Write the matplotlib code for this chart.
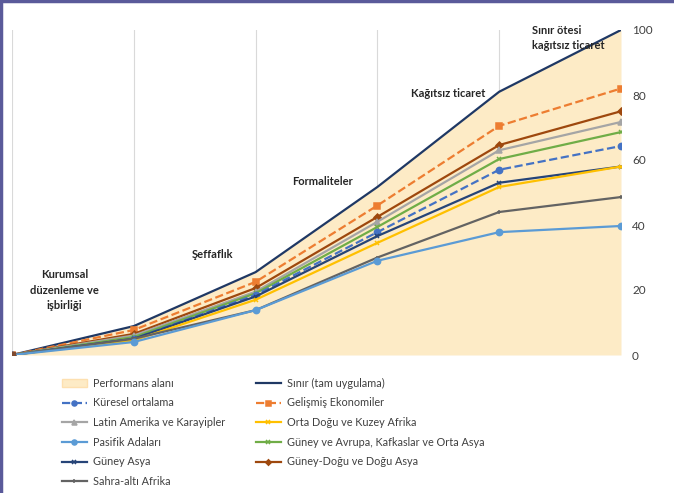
import matplotlib
matplotlib.use('Agg')
import matplotlib.pyplot as plt
from matplotlib.lines import Line2D
from matplotlib.patches import Patch

plt.rcParams['font.family'] = ['Lato', 'DejaVu Sans']

# stages (0..5) and values
stages = [0, 1, 2, 3, 4, 5]
sinir = [0, 8.9, 25.5, 51.7, 81, 100]
gelismis = [0, 7.7, 22.5, 46, 70.5, 82]
gd_asya = [0, 6.5, 20.6, 42.5, 64.6, 75]
latin = [0, 6, 19.5, 41, 63, 71.7]
g_avrupa = [0, 5.5, 19, 39.4, 60.3, 68.6]
kuresel = [0, 5, 18.5, 37.8, 57, 64.3]
g_asya = [0, 5, 18, 36.6, 53, 58]
orta_dogu = [0, 4.5, 17, 34.5, 51.7, 58]
sahra = [0, 5, 13.8, 30, 44, 48.6]
pasifik = [0, 4, 13.8, 29, 37.8, 39.7]

stage_labels = ['Kurumsal\ndüzenleme ve\nişbirliği', 'Şeffaflık', 'Formaliteler',
                'Kağıtsız ticaret', 'Sınır ötesi\nkağıtsız ticaret']

fig = plt.figure(figsize=(6.74, 4.93), dpi=100)
ax = fig.add_axes([12/674, 1-355/493, (621-12)/674, (355-30)/493])

ax.fill_between(stages, sinir, 0, color='#fdebc6', lw=0, zorder=1)
for s in stages:
    ax.axvline(s, color='#d9d9d9', lw=0.8, zorder=0.5)

series = [
    (sinir, '#1f3864', '-', None, 'Sınır (tam uygulama)'),
    (gelismis, '#ed7d31', '--', 's', 'Gelişmiş Ekonomiler'),
    (gd_asya, '#9e480e', '-', 'D', 'Güney-Doğu ve Doğu Asya'),
    (latin, '#a5a5a5', '-', '^', 'Latin Amerika ve Karayipler'),
    (g_avrupa, '#70ad47', '-', 'x', 'Güney ve Avrupa, Kafkaslar ve Orta Asya'),
    (kuresel, '#4472c4', '--', 'o', 'Küresel ortalama'),
    (g_asya, '#264478', '-', 'x', 'Güney Asya'),
    (orta_dogu, '#ffc000', '-', 'x', 'Orta Doğu ve Kuzey Afrika'),
    (sahra, '#636363', '-', '+', 'Sahra-altı Afrika'),
    (pasifik, '#5b9bd5', '-', 'o', 'Pasifik Adaları'),
]
handles = {}
for vals, col, ls, mk, lab in series:
    ms = 3.5 if mk in ('D', 'x', '+') else 4.5
    h, = ax.plot(stages, vals, color=col, ls=ls, lw=1.6, marker=mk, ms=ms,
                 mew=1.1, zorder=3, label=lab)
    handles[lab] = h
# the brown start point visible at origin
ax.plot([0], [0], marker='s', color='#7f4a2e', ms=4, zorder=4)

ax.set_xlim(0, 5)
ax.set_ylim(0, 100)
for sp in ax.spines.values():
    sp.set_visible(False)
ax.set_xticks([])
ax.yaxis.tick_right()
ax.set_yticks([0, 20, 40, 60, 80, 100])
ax.tick_params(axis='y', length=0, pad=8, labelsize=8.5, labelcolor='#404040')

label_pos = [(0.43, 20, 'center'), (1.65, 31, 'center'), (2.55, 53.5, 'center'),
             (3.58, 80.5, 'center'), (4.27, 97.5, 'left')]
for (x, y, ha), t in zip(label_pos, stage_labels):
    ax.text(x, y, t, ha=ha, va='center', fontsize=8, fontweight='bold',
            color='#262626', linespacing=1.5)

perf = Patch(facecolor='#fdebc6', edgecolor='#fde0b0', label='Performans alanı')
order = [perf, handles['Küresel ortalama'], handles['Latin Amerika ve Karayipler'],
         handles['Pasifik Adaları'], handles['Güney Asya'], handles['Sahra-altı Afrika'],
         handles['Sınır (tam uygulama)'], handles['Gelişmiş Ekonomiler'],
         handles['Orta Doğu ve Kuzey Afrika'],
         handles['Güney ve Avrupa, Kafkaslar ve Orta Asya'],
         handles['Güney-Doğu ve Doğu Asya']]
leg = fig.legend(handles=order, labels=[h.get_label() for h in order], ncol=2,
                 loc='upper left', bbox_to_anchor=(52/674, 1-368/493), frameon=False,
                 fontsize=7.8, handlelength=2.3, handletextpad=0.6,
                 columnspacing=2.8, labelspacing=0.8, markerscale=0.8)
for t in leg.get_texts():
    t.set_color('#404040')

# outer border on left and top
fig.add_artist(Line2D([0.0015, 0.0015], [0, 1], color='#5a5a9a', lw=2.5))
fig.add_artist(Line2D([0, 1], [0.998, 0.998], color='#5a5a9a', lw=2.5))

fig.savefig('out.png', dpi=100)
